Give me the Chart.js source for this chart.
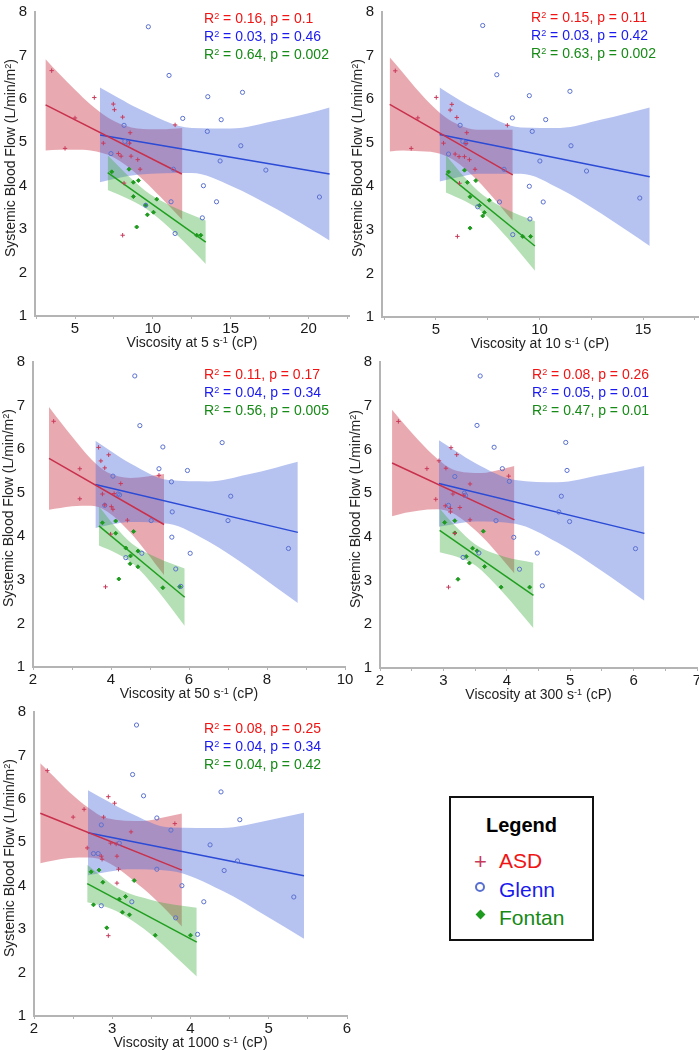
<!DOCTYPE html>
<html><head><meta charset="utf-8">
<script src="https://cdn.jsdelivr.net/npm/chart.js@4.4.0/dist/chart.umd.min.js"></script>
<style>
html,body{margin:0;padding:0;background:#fff;}
body{width:699px;height:1050px;overflow:hidden;position:relative;font-family:"Liberation Sans",Arial,sans-serif;}
.stat{position:absolute;font-size:14px;line-height:18px;white-space:nowrap;}
.xt{position:absolute;font-size:14px;white-space:nowrap;transform:translate(-50%,-50%);color:#222;}
.yt{position:absolute;font-size:14px;white-space:nowrap;transform:translate(-50%,-50%) rotate(-90deg);color:#222;}
sup{font-size:0.65em;vertical-align:0.45em;line-height:0;}
#legend{position:absolute;left:449px;top:796px;width:141px;height:141px;border:2px solid #111;}
#legend .ttl{position:absolute;left:0;width:141px;top:16px;text-align:center;font-weight:bold;font-size:20px;color:#000;}
#legend .item{position:absolute;left:48px;font-size:21px;line-height:24px;}
#legend .sym{position:absolute;}
</style></head>
<body>
<script>
// ---------- shared labels ----------
const shearRates = ['5', '10', '50', '300', '1000'];
const groupNames = ['ASD', 'Glenn', 'Fontan'];

// ---------- Panel 1 : viscosity at 5 s-1 ----------
const p1ASD = [[3.5,6.65],[6.24,6.03],[5.0,5.56],[4.36,4.86],[7.46,5.88],[7.53,5.75],[8.06,5.58],[8.54,5.22],[6.82,4.98],[7.79,4.74],[7.96,4.68],[8.6,4.68],[9.03,4.6],[9.18,4.38],[11.43,5.4],[8.15,4.06],[8.06,2.86],[8.5,4.98]];
const p1Glenn = [[9.71,7.66],[11.04,6.54],[13.53,6.05],[15.76,6.15],[11.92,5.55],[14.39,5.52],[8.15,5.39],[13.5,5.25],[8.2,5.02],[8.43,4.98],[15.65,4.92],[7.31,4.74],[14.32,4.57],[11.32,4.38],[17.26,4.36],[13.25,4.0],[11.17,3.63],[14.09,3.63],[20.7,3.74],[9.54,3.55],[13.18,3.26],[11.43,2.9]];
const p1Fontan = [[7.36,4.32],[8.47,4.38],[8.75,4.08],[9.07,4.12],[8.75,3.75],[10.25,3.69],[9.54,3.55],[9.65,3.33],[10.04,3.39],[8.96,3.05],[12.82,2.86],[13.08,2.86]];
const p1Lines = [[[3.11,5.86],[11.86,4.27]], [[6.61,5.17],[21.35,4.27]], [[7.1,4.3],[13.4,2.7]]];
const p1RedBandX = [3.1,4,5,6,7.5,9,10.5,11.9];
const p1RedBandUp = [6.92,6.57,6.21,5.87,5.49,5.32,5.30,5.33];
const p1RedBandLo = [4.81,4.83,4.83,4.81,4.65,4.26,3.74,3.21];
const p1BlueBandX = [6.6,7.8,9,12.5,15,18,20,21.35];
const p1BlueBandUp = [6.26,6.02,5.79,5.33,5.32,5.51,5.67,5.80];
const p1BlueBandLo = [4.08,4.18,4.25,4.29,4.0,3.45,3.03,2.74];
const p1GreenBandX = [7.1,8.5,9.8,11.5,13.4];
const p1GreenBandUp = [4.70,4.20,3.81,3.48,3.20];
const p1GreenBandLo = [3.90,3.68,3.41,2.88,2.20];
const p1Stats = [['0.16','0.1'],['0.03','0.46'],['0.64','0.002']];
const p1XTicks = [2.5,5,7.5,10,12.5,15,17.5,20,22.5];
const p1XLabels = [5,10,15,20];

// ---------- Panel 2 : viscosity at 10 s-1 ----------
const p2ASD = [[3.04,6.65],[5.02,6.04],[4.13,5.57],[3.81,4.87],[5.77,5.88],[5.69,5.75],[6.01,5.58],[6.49,5.23],[5.37,4.99],[5.93,4.74],[6.12,4.68],[6.38,4.68],[6.62,4.61],[6.89,4.39],[8.45,5.4],[6.14,4.07],[6.04,2.85],[6.45,4.98]];
const p2Glenn = [[7.26,7.69],[7.94,6.56],[9.51,6.08],[11.47,6.18],[8.69,5.57],[10.3,5.53],[6.17,5.4],[9.65,5.26],[6.3,5.03],[6.44,4.99],[11.52,4.93],[5.61,4.74],[10.02,4.58],[8.29,4.39],[12.27,4.35],[9.51,4.0],[8.07,3.64],[10.18,3.64],[14.84,3.73],[7.02,3.53],[9.54,3.25],[8.71,2.89]];
const p2Fontan = [[5.61,4.33],[6.38,4.37],[6.52,4.09],[6.93,4.13],[6.65,3.76],[7.58,3.68],[7.1,3.56],[7.26,3.32],[7.34,3.4],[6.65,3.04],[9.19,2.85],[9.57,2.85]];
const p2Lines = [[[2.77,5.88],[8.71,4.26]], [[5.18,5.19],[15.32,4.22]], [[5.48,4.29],[9.78,2.63]]];
const p2RedBandX = [2.77,3.4,4,5,5.8,7,8.71];
const p2RedBandUp = [6.96,6.61,6.27,5.77,5.48,5.30,5.30];
const p2RedBandLo = [4.80,4.82,4.81,4.77,4.62,4.14,3.21];
const p2BlueBandX = [5.18,6,7,9.1,11,13,14.2,15.32];
const p2BlueBandUp = [6.27,6.02,5.75,5.35,5.34,5.53,5.67,5.81];
const p2BlueBandLo = [4.11,4.20,4.29,4.29,3.94,3.37,2.99,2.63];
const p2GreenBandX = [5.48,6.4,7.27,8.5,9.78];
const p2GreenBandUp = [4.72,4.20,3.80,3.45,3.20];
const p2GreenBandLo = [3.86,3.66,3.40,2.79,2.06];
const p2Stats = [['0.15','0.11'],['0.03','0.42'],['0.63','0.002']];
const p2XTicks = [2.5,5,7.5,10,12.5,15,17.5];
const p2XLabels = [5,10,15];

// ---------- Panel 3 : viscosity at 50 s-1 ----------
const p3ASD = [[2.53,6.64],[3.2,5.55],[3.2,4.86],[3.68,6.04],[3.74,5.73],[3.94,5.87],[3.84,5.57],[4.25,5.21],[3.78,4.97],[3.84,4.72],[4.01,4.68],[4.05,4.62],[4.42,4.37],[5.23,5.4],[3.86,2.84],[4.08,4.98],[3.99,4.05]];
const p3Glenn = [[4.61,7.68],[4.74,6.54],[5.33,6.05],[6.85,6.15],[5.23,5.55],[5.96,5.51],[4.05,5.38],[5.55,5.25],[4.18,4.97],[4.22,4.95],[7.07,4.92],[3.84,4.71],[5.57,4.56],[5.03,4.36],[7.0,4.36],[5.56,3.98],[4.79,3.61],[6.03,3.61],[8.55,3.72],[4.38,3.51],[5.66,3.25],[5.79,2.85]];
const p3Fontan = [[3.78,4.31],[4.12,4.35],[4.12,4.07],[4.58,4.11],[4.38,3.73],[4.69,3.66],[4.5,3.55],[4.49,3.37],[4.69,3.3],[4.2,3.02],[5.33,2.82],[5.76,2.84]];
const p3Lines = [[[2.41,5.79],[5.36,4.27]], [[3.6,5.19],[8.79,4.09]], [[3.69,4.24],[5.89,2.6]]];
const p3RedBandX = [2.41,2.7,3,3.5,3.9,4.5,5.36];
const p3RedBandUp = [6.97,6.63,6.29,5.76,5.47,5.34,5.43];
const p3RedBandLo = [4.61,4.65,4.69,4.70,4.57,4.08,3.11];
const p3BlueBandX = [3.6,4.0,4.5,5.47,6.5,7.5,8.2,8.79];
const p3BlueBandUp = [6.19,5.95,5.67,5.29,5.26,5.42,5.57,5.71];
const p3BlueBandLo = [4.19,4.27,4.33,4.29,3.88,3.30,2.85,2.47];
const p3GreenBandX = [3.69,4.1,4.54,5.2,5.89];
const p3GreenBandUp = [4.69,4.23,3.83,3.50,3.26];
const p3GreenBandLo = [3.79,3.63,3.39,2.75,1.94];
const p3Stats = [['0.11','0.17'],['0.04','0.34'],['0.56','0.005']];
const p3XTicks = [2,3,4,5,6,7,8,9,10];
const p3XLabels = [2,4,6,8,10];

// ---------- Panel 4 : viscosity at 300 s-1 ----------
const p4ASD = [[2.29,6.64],[2.74,5.56],[2.88,4.86],[2.93,5.74],[3.04,5.57],[3.12,6.04],[3.21,5.88],[3.03,4.71],[3.11,4.65],[3.11,4.57],[3.15,4.98],[3.26,4.67],[3.42,5.21],[3.42,4.39],[3.18,4.08],[3.08,2.85],[4.03,5.39],[3.32,4.95]];
const p4Glenn = [[3.58,7.68],[3.53,6.55],[3.8,6.05],[4.93,6.16],[3.93,5.56],[4.95,5.52],[3.18,5.38],[4.04,5.27],[3.33,5.0],[3.35,4.95],[4.86,4.93],[3.08,4.72],[4.82,4.57],[3.83,4.37],[4.99,4.35],[4.11,3.99],[4.48,3.63],[4.2,3.26],[6.03,3.73],[3.31,3.53],[3.56,3.63],[4.56,2.88]];
const p4Fontan = [[3.02,4.33],[3.18,4.37],[3.18,4.09],[3.63,4.13],[3.46,3.74],[3.53,3.68],[3.36,3.55],[3.41,3.4],[3.65,3.32],[3.23,3.03],[3.91,2.85],[4.36,2.85]];
const p4Lines = [[[2.19,5.69],[4.12,4.39]], [[2.93,5.22],[6.17,4.08]], [[2.94,4.15],[4.42,2.66]]];
const p4RedBandX = [2.19,2.4,2.6,2.9,3.15,3.6,3.9,4.12];
const p4RedBandUp = [6.91,6.55,6.22,5.79,5.54,5.46,5.54,5.62];
const p4RedBandLo = [4.47,4.55,4.60,4.63,4.54,4.02,3.54,3.16];
const p4BlueBandX = [2.93,3.2,3.5,4.13,4.8,5.5,6.17];
const p4BlueBandUp = [6.21,5.96,5.69,5.30,5.25,5.42,5.62];
const p4BlueBandLo = [4.23,4.30,4.35,4.30,3.87,3.22,2.54];
const p4GreenBandX = [2.94,3.2,3.5,3.95,4.42];
const p4GreenBandUp = [4.65,4.23,3.83,3.55,3.41];
const p4GreenBandLo = [3.65,3.55,3.35,2.71,1.91];
const p4Stats = [['0.08','0.26'],['0.05','0.01'],['0.47','0.01']];
const p4XTicks = [2,2.5,3,3.5,4,4.5,5,5.5,6,6.5,7];
const p4XLabels = [2,3,4,5,6,7];

// ---------- Panel 5 : viscosity at 1000 s-1 ----------
const p5ASD = [[2.17,6.65],[2.5,5.58],[2.64,5.76],[2.68,4.87],[2.95,6.05],[3.03,5.9],[2.89,5.58],[3.24,5.24],[2.98,4.98],[3.05,4.96],[3.06,4.68],[2.86,4.68],[2.87,4.61],[3.08,4.38],[3.8,5.43],[3.06,4.06],[2.95,2.85]];
const p5Glenn = [[3.31,7.7],[3.26,6.56],[3.4,6.07],[4.39,6.16],[3.57,5.56],[4.63,5.52],[2.86,5.4],[3.75,5.28],[3.09,4.98],[4.25,4.94],[2.76,4.74],[2.82,4.74],[4.6,4.57],[3.57,4.38],[4.43,4.35],[3.89,4.0],[3.25,3.63],[4.17,3.63],[5.32,3.74],[2.86,3.54],[3.81,3.26],[4.09,2.88]];
const p5Fontan = [[2.73,4.32],[2.83,4.36],[2.88,4.08],[3.28,4.12],[3.17,3.75],[3.09,3.69],[2.76,3.56],[3.13,3.39],[3.22,3.33],[2.93,3.03],[3.55,2.86],[4.0,2.86]];
const p5Lines = [[[2.08,5.67],[3.89,4.36]], [[2.69,5.22],[5.45,4.23]], [[2.68,4.05],[4.08,2.7]]];
const p5RedBandX = [2.08,2.25,2.45,2.7,2.92,3.4,3.65,3.89];
const p5RedBandUp = [6.82,6.52,6.16,5.79,5.56,5.49,5.57,5.66];
const p5RedBandLo = [4.52,4.58,4.64,4.65,4.56,3.93,3.51,3.06];
const p5BlueBandX = [2.69,2.95,3.2,3.75,4.4,5.0,5.45];
const p5BlueBandUp = [6.20,5.94,5.70,5.34,5.33,5.51,5.68];
const p5BlueBandLo = [4.24,4.32,4.38,4.34,3.89,3.27,2.78];
const p5GreenBandX = [2.68,2.9,3.1,3.5,3.8,4.08];
const p5GreenBandUp = [4.48,4.16,3.91,3.67,3.56,3.49];
const p5GreenBandLo = [3.62,3.52,3.37,2.87,2.38,1.91];
const p5Stats = [['0.08','0.25'],['0.04','0.34'],['0.04','0.42']];
const p5XTicks = [2,2.5,3,3.5,4,4.5,5,5.5,6];
const p5XLabels = [2,3,4,5,6];

const yTitle = 'Systemic Blood Flow (L/min/m<sup>2</sup>)';

// ---------- styling ----------
const COL = {
  band: ['rgba(200,40,60,0.40)', 'rgba(80,110,220,0.42)', 'rgba(60,170,60,0.38)'],
  line: ['#c8304c', '#2b4bd6', '#1f9e1f'],
  point: ['#c83a5a', '#5a70d0', '#1e9a1e'],
  text: ['#f01414', '#1a1aee', '#168a16']
};

const panels = [
  {L:35, T:5,   R:349, B:316, xmin:2.43, xmax:22.6, xt:p1XTicks, xl:p1XLabels, pts:[p1ASD,p1Glenn,p1Fontan], lines:p1Lines,
   bands:[[p1RedBandX,p1RedBandUp,p1RedBandLo],[p1BlueBandX,p1BlueBandUp,p1BlueBandLo],[p1GreenBandX,p1GreenBandUp,p1GreenBandLo]], stats:p1Stats, sx:204, sy:9, rate:shearRates[0]},
  {L:382, T:5,  R:698, B:317, xmin:2.4, xmax:17.65, xt:p2XTicks, xl:p2XLabels, pts:[p2ASD,p2Glenn,p2Fontan], lines:p2Lines,
   bands:[[p2RedBandX,p2RedBandUp,p2RedBandLo],[p2BlueBandX,p2BlueBandUp,p2BlueBandLo],[p2GreenBandX,p2GreenBandUp,p2GreenBandLo]], stats:p2Stats, sx:531, sy:8, rate:shearRates[1]},
  {L:33, T:355, R:345, B:667, xmin:2, xmax:10, xt:p3XTicks, xl:p3XLabels, pts:[p3ASD,p3Glenn,p3Fontan], lines:p3Lines,
   bands:[[p3RedBandX,p3RedBandUp,p3RedBandLo],[p3BlueBandX,p3BlueBandUp,p3BlueBandLo],[p3GreenBandX,p3GreenBandUp,p3GreenBandLo]], stats:p3Stats, sx:204, sy:365, rate:shearRates[2]},
  {L:380, T:355, R:697, B:668, xmin:2, xmax:7, xt:p4XTicks, xl:p4XLabels, pts:[p4ASD,p4Glenn,p4Fontan], lines:p4Lines,
   bands:[[p4RedBandX,p4RedBandUp,p4RedBandLo],[p4BlueBandX,p4BlueBandUp,p4BlueBandLo],[p4GreenBandX,p4GreenBandUp,p4GreenBandLo]], stats:p4Stats, sx:532, sy:365, rate:shearRates[3]},
  {L:34, T:705, R:347, B:1016, xmin:2, xmax:6, xt:p5XTicks, xl:p5XLabels, pts:[p5ASD,p5Glenn,p5Fontan], lines:p5Lines,
   bands:[[p5RedBandX,p5RedBandUp,p5RedBandLo],[p5BlueBandX,p5BlueBandUp,p5BlueBandLo],[p5GreenBandX,p5GreenBandUp,p5GreenBandLo]], stats:p5Stats, sx:204, sy:719, rate:shearRates[4]}
];

const FONT = '"Liberation Sans", Arial, sans-serif';
const PADL = 37, PADR = 14, PADT = 10, XH = 24;
const pointStyles = ['cross', 'circle', 'rectRot'];
const pointRadii = [2.2, 2.1, 2.0];

function addDiv(cls, html, css) {
  const d = document.createElement('div');
  d.className = cls; d.innerHTML = html; d.style.cssText = css;
  document.body.appendChild(d);
  return d;
}

panels.forEach((p) => {
  const W = p.R - p.L + PADL + PADR, H = p.B - p.T + PADT + XH;
  const cv = document.createElement('canvas');
  cv.width = W; cv.height = H;
  cv.style.cssText = `position:absolute;left:${p.L - PADL}px;top:${p.T - PADT}px;width:${W}px;height:${H}px;`;
  document.body.appendChild(cv);

  const ds = [];
  // confidence bands (red bottom, blue, green top)
  p.bands.forEach((b, g) => {
    const [bx, up, lo] = b;
    const order = 30 - g * 5;
    ds.push({type:'line', data: bx.map((x, i) => ({x, y: up[i]})), borderColor:'rgba(0,0,0,0)', borderWidth:0,
      pointRadius:0, fill:'+1', backgroundColor: COL.band[g], cubicInterpolationMode:'monotone', order});
    ds.push({type:'line', data: bx.map((x, i) => ({x, y: lo[i]})), borderColor:'rgba(0,0,0,0)', borderWidth:0,
      pointRadius:0, fill:false, cubicInterpolationMode:'monotone', order});
  });
  // regression lines
  p.lines.forEach((ln, g) => {
    ds.push({type:'line', data: ln.map(([x, y]) => ({x, y})), borderColor: COL.line[g], borderWidth:1.5,
      pointRadius:0, fill:false, order: 5});
  });
  // scatter points
  p.pts.forEach((arr, g) => {
    ds.push({type:'scatter', label: groupNames[g], data: arr.map(([x, y]) => ({x, y})), pointStyle: pointStyles[g],
      pointRadius: pointRadii[g], borderColor: COL.point[g], borderWidth: 1,
      backgroundColor: g === 1 ? 'rgba(0,0,0,0)' : COL.point[g], order: 1});
  });

  new Chart(cv, {
    type: 'scatter',
    data: { datasets: ds },
    options: {
      responsive: false, animation: false, events: [],
      layout: { padding: { left: 0, right: PADR, top: PADT, bottom: 0 } },
      plugins: { legend: { display: false }, tooltip: { enabled: false } },
      scales: {
        x: {
          type: 'linear', min: p.xmin, max: p.xmax,
          border: { display: true, color: '#b4b4b4', width: 2 },
          grid: { display: true, drawOnChartArea: false, drawTicks: true, tickLength: 3, color: '#b4b4b4', lineWidth: 1 },
          afterBuildTicks: (s) => { s.ticks = p.xt.map(v => ({ value: v })); },
          afterFit: (s) => { s.height = XH; },
          ticks: { autoSkip: false, maxRotation: 0, padding: 1, color: '#1a1a1a', font: { family: FONT, size: 15 },
            callback: (v) => p.xl.includes(v) ? String(v) : '' }
        },
        y: {
          type: 'linear', min: 1, max: 8,
          border: { display: true, color: '#b4b4b4', width: 2 },
          grid: { display: true, drawOnChartArea: false, drawTicks: false, color: '#b4b4b4' },
          afterFit: (s) => { s.width = PADL; },
          ticks: { stepSize: 1, padding: 8, color: '#1a1a1a', font: { family: FONT, size: 15 } }
        }
      }
    }
  });

  // statistics text
  const html = p.stats.map((s, g) =>
    `<div style="color:${COL.text[g]}">R<sup>2</sup> = ${s[0]}, p = ${s[1]}</div>`).join('');
  addDiv('stat', html, `left:${p.sx}px;top:${p.sy}px;`);
  // axis titles
  addDiv('xt', `Viscosity at ${p.rate} s<sup>-1</sup> (cP)`, `left:${(p.L + p.R) / 2}px;top:${p.B + 26}px;`);
  addDiv('yt', yTitle, `left:${p.L - 25}px;top:${(p.T + p.B) / 2 - 3}px;`);
});

// ---------- legend box ----------
const lg = document.createElement('div');
lg.id = 'legend';
lg.innerHTML =
  `<div class="ttl">Legend</div>` +
  `<div class="sym" style="left:23px;top:53px;font-size:22px;line-height:22px;color:${COL.point[0]}">+</div>` +
  `<div class="item" style="top:51px;color:${COL.text[0]}">${groupNames[0]}</div>` +
  `<div class="sym" style="left:24px;top:84px;width:6px;height:6px;border:2px solid ${COL.point[1]};border-radius:50%"></div>` +
  `<div class="item" style="top:80px;color:${COL.text[1]}">${groupNames[1]}</div>` +
  `<div class="sym" style="left:26px;top:113px;width:7px;height:7px;background:${COL.point[2]};transform:rotate(45deg)"></div>` +
  `<div class="item" style="top:108px;color:${COL.text[2]}">${groupNames[2]}</div>`;
document.body.appendChild(lg);
</script>
</body></html>
